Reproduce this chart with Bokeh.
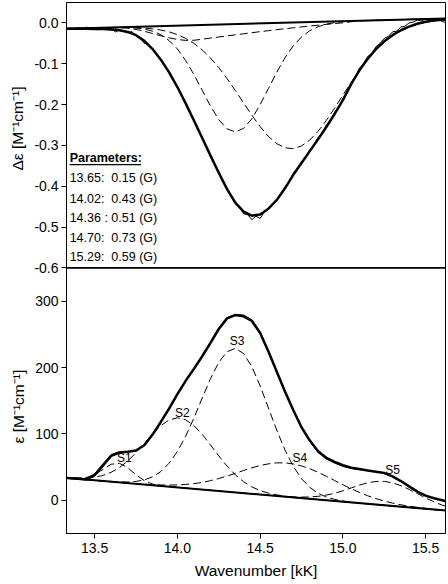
from bokeh.plotting import figure
from bokeh.models import (FixedTicker, Label, BoxAnnotation, Range1d, Span, Title)
from bokeh.embed import file_html
from bokeh.resources import INLINE

FONT = "Liberation Sans"

# ---------------- data ----------------
wn = [13.30, 13.35, 13.40, 13.45, 13.50, 13.55, 13.60, 13.65, 13.70, 13.75,
      13.80, 13.85, 13.90, 13.95, 14.00, 14.05, 14.10, 14.15, 14.20, 14.25,
      14.30, 14.35, 14.40, 14.45, 14.50, 14.55, 14.60, 14.65, 14.70, 14.75,
      14.80, 14.85, 14.90, 14.95, 15.00, 15.05, 15.10, 15.15, 15.20, 15.25,
      15.30, 15.35, 15.40, 15.45, 15.50, 15.55, 15.60, 15.65]

# CD panel (delta epsilon)
cd_wn = [13.325, 13.350, 13.375, 13.400, 13.425, 13.450, 13.475, 13.500, 13.525, 13.550,
         13.575, 13.600, 13.625, 13.650, 13.675, 13.700, 13.725, 13.750, 13.775, 13.800,
         13.825, 13.850, 13.875, 13.900, 13.925, 13.950, 13.975, 14.000, 14.025, 14.050,
         14.075, 14.100, 14.125, 14.150, 14.175, 14.200, 14.225, 14.250, 14.275, 14.300,
         14.325, 14.350, 14.375, 14.400, 14.425, 14.450, 14.475, 14.500, 14.525, 14.550,
         14.575, 14.600, 14.625, 14.650, 14.675, 14.700, 14.725, 14.750, 14.775, 14.800,
         14.825, 14.850, 14.875, 14.900, 14.925, 14.950, 14.975, 15.000, 15.025, 15.050,
         15.075, 15.100, 15.125, 15.150, 15.175, 15.200, 15.225, 15.250, 15.275, 15.300,
         15.325, 15.350, 15.375, 15.400, 15.425, 15.450, 15.475, 15.500, 15.525, 15.550,
         15.575, 15.600, 15.625]
cd_data = [-0.016, -0.012, -0.015, -0.013, -0.016, -0.010, -0.015, -0.012, -0.017, -0.011,
           -0.017, -0.013, -0.022, -0.017, -0.020, -0.024, -0.021, -0.032, -0.036, -0.050,
           -0.052, -0.063, -0.079, -0.088, -0.107, -0.120, -0.140, -0.156, -0.178, -0.196,
           -0.220, -0.238, -0.262, -0.280, -0.305, -0.323, -0.347, -0.363, -0.390, -0.405,
           -0.426, -0.442, -0.452, -0.467, -0.470, -0.482, -0.473, -0.479, -0.463, -0.456,
           -0.446, -0.432, -0.422, -0.402, -0.390, -0.369, -0.359, -0.340, -0.330, -0.310,
           -0.300, -0.280, -0.272, -0.250, -0.240, -0.219, -0.206, -0.185, -0.170, -0.146,
           -0.132, -0.111, -0.100, -0.082, -0.075, -0.058, -0.050, -0.038, -0.033, -0.022,
           -0.020, -0.010, -0.008, 0.000, 0.002, 0.007, 0.005, 0.010, 0.006, 0.011,
           0.008, 0.004, 0.000]
cd_fit = [-0.014, -0.014, -0.014, -0.014, -0.015, -0.015, -0.016, -0.018, -0.022, -0.030,
          -0.044, -0.064, -0.090, -0.121, -0.157, -0.197, -0.239, -0.282, -0.325, -0.367,
          -0.407, -0.440, -0.462, -0.472, -0.469, -0.455, -0.434, -0.405, -0.372, -0.343,
          -0.314, -0.285, -0.255, -0.223, -0.189, -0.150, -0.116, -0.088, -0.064, -0.045,
          -0.030, -0.018, -0.009, -0.002, 0.003, 0.006, 0.008, 0.009]
cd_base_x = [13.30, 15.65]
cd_base_y = [-0.0143, 0.0113]
cd_band_a = [-0.0143, -0.0138, -0.0132, -0.0127, -0.0121, -0.0116, -0.0112, -0.0110, -0.0112, -0.0124,
             -0.0149, -0.0203, -0.0288, -0.0432, -0.0637, -0.0921, -0.1266, -0.1650, -0.2035, -0.2369,
             -0.2594, -0.2669, -0.2583, -0.2348, -0.2002, -0.1607, -0.1211, -0.0856, -0.0560, -0.0345,
             -0.0189, -0.0094, -0.0029, 0.0007, 0.0032, 0.0043, 0.0053, 0.0059, 0.0064, 0.0070,
             0.0075, 0.0080, 0.0086, 0.0091, 0.0097, 0.0102, 0.0108, 0.0113]
cd_band_b = [-0.0143, -0.0138, -0.0132, -0.0128, -0.0122, -0.0118, -0.0114, -0.0113, -0.0112, -0.0117,
             -0.0126, -0.0145, -0.0174, -0.0220, -0.0286, -0.0379, -0.0501, -0.0662, -0.0861, -0.1093,
             -0.1363, -0.1654, -0.1960, -0.2261, -0.2540, -0.2779, -0.2955, -0.3058, -0.3080, -0.3013,
             -0.2868, -0.2656, -0.2388, -0.2086, -0.1769, -0.1457, -0.1161, -0.0896, -0.0665, -0.0471,
             -0.0314, -0.0195, -0.0102, -0.0033, 0.0017, 0.0053, 0.0077, 0.0094]
cd_band_c = [-0.0143, -0.0138, -0.0132, -0.0127, -0.0122, -0.0117, -0.0115, -0.0118, -0.0130, -0.0160,
             -0.0205, -0.0260, -0.0315, -0.0365, -0.0405, -0.0428, -0.0425, -0.0400, -0.0372, -0.0345,
             -0.0318, -0.0292, -0.0266, -0.0240, -0.0214, -0.0190, -0.0165, -0.0142, -0.0120, -0.0098,
             -0.0076, -0.0056, -0.0036, -0.0016, 0.0003, 0.0030, 0.0053, 0.0059, 0.0064, 0.0070,
             0.0075, 0.0080, 0.0086, 0.0091, 0.0097, 0.0102, 0.0108, 0.0113]

# absorption panel (epsilon)
abs_data = [34.4, 33.3, 32.0, 31.5, 40, 55, 69, 73, 73, 75,
            84, 100, 119, 139, 160, 180, 199, 218, 238, 259,
            275, 280, 279, 272, 254, 225, 195, 164, 136, 110,
            89, 72, 62, 56, 51, 48, 46, 45, 43, 41,
            36, 29, 21, 13, 7, 3, 0, -3]
abs_fit = [34.4, 33.3, 32.3, 31.5, 38, 52, 67, 72, 73, 75,
           83, 99, 118, 138, 160, 180, 198, 217, 237, 258,
           274, 279, 277, 270, 252, 224, 194, 164, 136, 110,
           90, 74, 64, 58, 53, 49, 47, 45, 43, 41,
           36, 29, 21, 13, 7, 3, 0, -3]
abs_base_x = [13.30, 15.65]
abs_base_y = [34.4, -16.1]
band_s1 = [34.4, 33.5, 33.1, 34.3, 38.7, 46.6, 54.3, 55.7, 49.0, 38.4,
           29.7, 24.5, 21.9, 20.5, 19.4, 18.3, 17.2, 16.1, 15.1, 14.0,
           12.9, 11.8, 10.8, 9.7, 8.6, 7.5, 6.5, 5.4, 4.3, 3.2,
           2.2, 1.1, 0.0, -1.1, -2.2, -3.2, -4.3, -5.4, -6.5, -7.5,
           -8.6, -9.7, -10.8, -11.8, -12.9, -14.0, -15.1, -16.1]
band_s2 = [34.7, 33.9, 33.6, 33.7, 34.8, 37.4, 42.2, 49.3, 59.2, 71.7,
           85.8, 100.0, 112.4, 121.0, 124.3, 121.3, 112.5, 99.3, 83.4, 66.9,
           51.5, 38.3, 28.0, 20.2, 14.6, 10.8, 8.2, 6.2, 4.7, 3.4,
           2.2, 1.1, 0.0, -1.1, -2.2, -3.2, -4.3, -5.4, -6.5, -7.5,
           -8.6, -9.7, -10.8, -11.8, -12.9, -14.0, -15.1, -16.1]
band_s3 = [34.4, 33.3, 32.3, 31.2, 30.1, 29.1, 28.4, 27.7, 27.6, 28.4,
           30.7, 35.4, 43.3, 55.9, 73.5, 96.5, 124.0, 154.0, 183.2, 207.7,
           223.9, 228.8, 221.1, 201.2, 172.4, 139.1, 105.9, 75.9, 51.2, 32.6,
           19.5, 10.6, 4.9, 1.3, -1.1, -2.7, -4.3, -5.4, -6.5, -7.5,
           -8.6, -9.7, -10.8, -11.8, -12.9, -14.0, -15.1, -16.1]
band_s4 = [34.4, 33.3, 32.3, 31.2, 30.1, 29.0, 28.1, 27.0, 26.0, 25.1,
           24.3, 23.6, 23.1, 22.9, 23.2, 23.9, 25.1, 26.9, 29.6, 32.8,
           36.5, 40.6, 44.9, 48.9, 52.4, 54.9, 56.4, 56.4, 54.8, 51.8,
           47.6, 42.2, 36.2, 29.8, 23.4, 17.4, 11.8, 6.8, 2.5, -1.1,
           -4.2, -6.7, -8.9, -10.6, -12.1, -13.5, -14.8, -15.9]
band_s5 = [34.4, 33.3, 32.3, 31.2, 30.1, 29.0, 28.0, 26.9, 25.8, 24.7,
           23.7, 22.6, 21.5, 20.4, 19.4, 18.3, 17.2, 16.1, 15.1, 14.0,
           12.9, 11.8, 10.8, 9.7, 8.6, 7.6, 6.7, 5.8, 5.1, 4.8,
           5.1, 6.0, 7.8, 10.6, 14.3, 18.6, 22.9, 26.4, 28.4, 28.5,
           26.3, 22.1, 16.4, 10.0, 3.6, -2.3, -7.3, -11.2]
band_names = ["S1", "S2", "S3", "S4", "S5"]
band_label_x = [13.68, 14.03, 14.36, 14.74, 15.30]
band_label_y = [63, 132, 240, 63, 46]

NB = "\u00a0"
param_title = "Parameters:"
param_lines = ["13.65:" + NB + NB + "0.15 (G)", "14.02:" + NB + NB + "0.43 (G)",
               "14.36" + NB + ":" + NB + "0.51 (G)", "14.70:" + NB + NB + "0.73 (G)",
               "15.29:" + NB + NB + "0.59 (G)"]
param_y = [-0.381, -0.430, -0.477, -0.526, -0.574]

cd_ticks = [0.0, -0.1, -0.2, -0.3, -0.4, -0.5, -0.6]
abs_ticks = [0, 100, 200, 300]
wn_ticks = [13.5, 14.0, 14.5, 15.0, 15.5]

X_RANGE = (13.33, 15.62)
ABS_RANGE = (-50, 350)
CD_RANGE = (-0.6, 0.05)

# Both panels share one frame: the absorption panel fills the lower half,
# the CD panel (own y range "cd") the upper half.
CD_SCALE = 615.0                          # main units per CD unit
main_top = ABS_RANGE[1] + (CD_RANGE[1] - CD_RANGE[0]) * CD_SCALE
cd_low = CD_RANGE[0] - (ABS_RANGE[1] - ABS_RANGE[0]) / CD_SCALE


def cd_to_main(v):
    return ABS_RANGE[1] + (v - CD_RANGE[0]) * CD_SCALE


p = figure(width=448, height=584, x_range=Range1d(*X_RANGE),
           y_range=Range1d(ABS_RANGE[0], main_top),
           output_backend="svg", toolbar_location=None,
           min_border_left=66, min_border_right=3, min_border_top=2, min_border_bottom=51)
p.extra_y_ranges = {"cd": Range1d(cd_low, CD_RANGE[1])}
p.grid.visible = False
p.outline_line_color = "black"
p.outline_line_alpha = 1
p.outline_line_width = 1

# shared y axis carrying both panels' ticks
tick_pos = [float(t) for t in abs_ticks] + [cd_to_main(t) for t in cd_ticks]
overrides = {float(t): str(t) for t in abs_ticks}
for t in cd_ticks:
    overrides[cd_to_main(t)] = "%.1f" % t
p.yaxis.ticker = FixedTicker(ticks=tick_pos)
p.yaxis.major_label_overrides = overrides
p.xaxis.ticker = FixedTicker(ticks=wn_ticks)
p.xaxis.major_label_overrides = {t: "%.1f" % t for t in wn_ticks}
p.xaxis.axis_label = "Wavenumber [kK]"
for ax in (p.xaxis, p.yaxis):
    ax.major_label_text_font = FONT
    ax.major_label_text_font_size = "14px"
    ax.major_label_text_color = "black"
    ax.axis_label_text_font = FONT
    ax.axis_label_text_font_size = "15.5px"
    ax.axis_label_text_font_style = "normal"
    ax.axis_label_text_color = "black"
    ax.axis_line_color = "black"
    ax.major_tick_line_color = "black"
    ax.major_tick_out = 5
    ax.major_tick_in = 0
    ax.minor_tick_line_color = None
p.xaxis.major_label_standoff = 4
p.xaxis.axis_label_standoff = 6
p.yaxis.major_label_standoff = 3

# y-axis titles, each centred on its own panel (side titles on the left)
ABS_TITLE_STANDOFF = 10
t_abs = Title(text="ε [M⁻¹cm⁻¹]", align="left", offset=90, standoff=ABS_TITLE_STANDOFF,
              text_font=FONT, text_font_size="15.5px", text_font_style="normal",
              text_color="black")
t_cd = Title(text="Δε [M⁻¹cm⁻¹]", align="right", offset=84, standoff=-36 - ABS_TITLE_STANDOFF,
             text_font=FONT, text_font_size="15.5px", text_font_style="normal",
             text_color="black")
p.add_layout(t_abs, "left")
p.add_layout(t_cd, "left")

# boundary between the two panels
p.add_layout(Span(location=ABS_RANGE[1], dimension="width", line_color="black", line_width=1.8))

# ---- CD panel ----
p.line(cd_base_x, cd_base_y, line_color="black", line_width=2, y_range_name="cd")
for band in (cd_band_c, cd_band_a, cd_band_b):
    p.line(wn, band, line_color="black", line_width=1, line_dash="8 4", y_range_name="cd")
p.line(cd_wn, cd_data, line_color="black", line_width=1, y_range_name="cd")
p.line(wn, cd_fit, line_color="black", line_width=2.5, y_range_name="cd")

p.add_layout(Label(x=13.349, y=-0.332, text=param_title, text_font=FONT, text_font_size="12.5px",
                   text_font_style="bold", text_baseline="middle", text_color="black",
                   y_range_name="cd"))
p.add_layout(BoxAnnotation(left=13.349, right=13.78, bottom=-0.3485, top=-0.3455,
                           fill_color="black", fill_alpha=1, line_color=None, y_range_name="cd"))
for t, y in zip(param_lines, param_y):
    p.add_layout(Label(x=13.349, y=y, text=t, text_font=FONT, text_font_size="12.5px",
                       text_baseline="middle", text_color="black", y_range_name="cd"))

# ---- absorption panel ----
p.line(abs_base_x, abs_base_y, line_color="black", line_width=2)
for band in (band_s1, band_s2, band_s3, band_s4, band_s5):
    p.line(wn, band, line_color="black", line_width=1, line_dash="8 4")
p.line(wn, abs_data, line_color="black", line_width=1)
p.line(wn, abs_fit, line_color="black", line_width=2.5)

for name, lx, ly in zip(band_names, band_label_x, band_label_y):
    p.add_layout(Label(x=lx, y=ly, text=name, text_font=FONT, text_font_size="12px",
                       text_align="center", text_baseline="middle", text_color="black"))

open("out.html", "w").write(file_html(p, INLINE))
